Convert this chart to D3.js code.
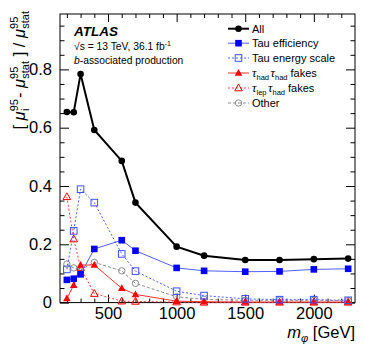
<!DOCTYPE html>
<html>
<head>
<meta charset="utf-8">
<script src="https://cdn.jsdelivr.net/npm/d3@7"></script>
<style>
  body { margin: 0; background: #fff; }
  text { font-family: "Liberation Sans", Arial, Helvetica, sans-serif; }
</style>
</head>
<body>
<div id="my_dataviz"></div>
<script>
// mass points (GeV)
var masses = [200, 250, 300, 400, 600, 700, 1000, 1200, 1500, 1750, 2000, 2250]
// relative impact on the 95% CL limit
var allSyst  = [0.654, 0.653, 0.784, 0.592, 0.486, 0.343, 0.192, 0.161, 0.146, 0.146, 0.149, 0.151]
var tauEff   = [0.078, 0.082, 0.097, 0.184, 0.214, 0.178, 0.119, 0.109, 0.106, 0.107, 0.114, 0.116]
var tauEs    = [0.114, 0.246, 0.389, 0.343, 0.167, 0.108, 0.039, 0.024, 0.013, 0.010, 0.010, 0.008]
var hadhadFk = [0.014, 0.060, 0.129, 0.129, 0.049, 0.028, 0.005, 0.003, 0.002, 0.002, 0.002, 0.002]
var lephadFk = [0.363, 0.218, 0.120, 0.031, 0.005, 0.004, 0.002, 0.001, 0.001, 0.001, 0.001, 0.001]
var other    = [0.132, 0.119, 0.112, 0.138, 0.109, 0.066, 0.020, 0.011, 0.008, 0.008, 0.008, 0.007]

var yTicks = [0, 0.2, 0.4, 0.6, 0.8]
var xTicks = [500, 1000, 1500, 2000]

var W = 374, H = 361
var pL = 60, pR = 355, pT = 14, pB = 302.6

var svg = d3.select("#my_dataviz").append("svg")
    .attr("width", W).attr("height", H)

var x = d3.scaleLinear().domain([150, 2300]).range([pL, pR])
var y = d3.scaleLinear().domain([0, 0.99]).range([pB, pT])

// minor tick values
var xMinor = d3.range(200, 2300, 100).filter(function (d) { return d % 500 !== 0 })
var yMinor = d3.range(0, 0.99, 0.05).filter(function (d) { return Math.round(d * 100) % 20 !== 0 })

// ---- axes (ticks inside, mirrored on top/right)
var fmt = function (d) { return d === 0 ? "0" : d3.format(".1f")(d) }

svg.append("g").attr("transform", "translate(0," + pB + ")")
    .call(d3.axisBottom(x).tickValues(xTicks).tickSize(-8).tickPadding(5).tickFormat(d3.format("d")).tickSizeOuter(0))
svg.append("g").attr("transform", "translate(0," + pB + ")")
    .call(d3.axisBottom(x).tickValues(xMinor).tickSize(-4).tickFormat("").tickSizeOuter(0))
svg.append("g").attr("transform", "translate(0," + pT + ")")
    .call(d3.axisTop(x).tickValues(xTicks).tickSize(-8).tickFormat("").tickSizeOuter(0))
svg.append("g").attr("transform", "translate(0," + pT + ")")
    .call(d3.axisTop(x).tickValues(xMinor).tickSize(-4).tickFormat("").tickSizeOuter(0))

svg.append("g").attr("transform", "translate(" + pL + ",0)")
    .call(d3.axisLeft(y).tickValues(yTicks).tickSize(-9).tickPadding(8).tickFormat(fmt).tickSizeOuter(0))
svg.append("g").attr("transform", "translate(" + pL + ",0)")
    .call(d3.axisLeft(y).tickValues(yMinor).tickSize(-4.5).tickFormat("").tickSizeOuter(0))
svg.append("g").attr("transform", "translate(" + pR + ",0)")
    .call(d3.axisRight(y).tickValues(yTicks).tickSize(-9).tickFormat("").tickSizeOuter(0))
svg.append("g").attr("transform", "translate(" + pR + ",0)")
    .call(d3.axisRight(y).tickValues(yMinor).tickSize(-4.5).tickFormat("").tickSizeOuter(0))

svg.selectAll(".domain").remove()
svg.selectAll(".tick line").attr("stroke", "#000").attr("stroke-width", 1)
svg.selectAll(".tick text").attr("font-size", 16.5).attr("fill", "#000")
    .attr("font-family", "Liberation Sans, Arial, sans-serif")

// frame
svg.append("rect")
    .attr("x", pL).attr("y", pT)
    .attr("width", pR - pL).attr("height", pB - pT)
    .attr("fill", "none").attr("stroke", "#000").attr("stroke-width", 1)

// ---- series
var series = [
    { name: "Other", vals: other, line: "#8c8c8c", mk: "#8c8c8c", dash: "3,2", w: 1, shape: "circle", fill: false },
    { name: "lephad", vals: lephadFk, line: "#ff4444", mk: "#ff0000", dash: "2,2", w: 1, shape: "tri", fill: false },
    { name: "hadhad", vals: hadhadFk, line: "#ff3333", mk: "#ff0000", dash: null, w: 1, shape: "tri", fill: true },
    { name: "Tau energy scale", vals: tauEs, line: "#5060ff", mk: "#4050ff", dash: "2,2", w: 1, shape: "square", fill: false },
    { name: "Tau efficiency", vals: tauEff, line: "#5060ff", mk: "#0000ff", dash: null, w: 1, shape: "square", fill: true },
    { name: "All", vals: allSyst, line: "#000", mk: "#000", dash: null, w: 2, shape: "circle", fill: true }
]

var line = d3.line()
    .x(function (d) { return x(d[0]) })
    .y(function (d) { return y(d[1]) })

function drawMarker(g, s, cx, cy) {
    var m
    if (s.shape === "circle") {
        m = g.append("circle").attr("cx", cx).attr("cy", cy).attr("r", s.fill ? 3.3 : 3.2)
    } else if (s.shape === "square") {
        m = g.append("rect").attr("x", cx - 3.3).attr("y", cy - 3.3).attr("width", 6.6).attr("height", 6.6)
    } else {
        m = g.append("path").attr("d", "M" + cx + "," + (cy - 4) + "L" + (cx + 3.8) + "," + (cy + 2.8) + "L" + (cx - 3.8) + "," + (cy + 2.8) + "Z")
    }
    if (s.fill) m.attr("fill", s.mk).attr("stroke", "none")
    else m.attr("fill", "none").attr("stroke", s.mk).attr("stroke-width", 1)
}

series.forEach(function (s) {
    var pts = masses.map(function (m, i) { return [m, s.vals[i]] })
    svg.append("path")
        .datum(pts)
        .attr("d", line)
        .attr("fill", "none")
        .attr("stroke", s.line)
        .attr("stroke-width", s.w)
        .attr("stroke-dasharray", s.dash)
    var g = svg.append("g")
    pts.forEach(function (p) { drawMarker(g, s, x(p[0]), y(p[1])) })
})

// ---- legend
var legRows = [
    { s: series[5], label: [["All"]] },
    { s: series[4], label: [["Tau efficiency"]] },
    { s: series[3], label: [["Tau energy scale"]] },
    { s: series[2], label: [["τ", "tau"], ["had", "sub"], ["τ", "tau"], ["had", "sub"], [" fakes"]] },
    { s: series[1], label: [["τ", "tau"], ["lep", "sub"], ["τ", "tau"], ["had", "sub"], [" fakes"]] },
    { s: series[0], label: [["Other"]] }
]
var legY = [28.7, 43.2, 58, 73, 88, 103]

legRows.forEach(function (r, i) {
    var ly = legY[i]
    svg.append("line")
        .attr("x1", 228).attr("x2", 249).attr("y1", ly).attr("y2", ly)
        .attr("stroke", r.s.line).attr("stroke-width", r.s.w)
        .attr("stroke-dasharray", r.s.dash)
    drawMarker(svg.append("g"), r.s, 238.5, ly)
    var t = svg.append("text").attr("x", 252).attr("y", ly + 4).attr("font-size", 11)
    r.label.forEach(function (p) {
        var n = t.selectAll("tspan").size()
        var ts = t.append("tspan").text(p[0])
        if (p[1] === "tau") {
            ts.attr("font-family", "Liberation Serif, serif").attr("font-style", "italic").attr("font-size", 12.5)
            if (n > 0) ts.attr("dx", 1.5).attr("dy", -3)
        } else if (p[1] === "sub") {
            ts.attr("font-size", 7.5).attr("dy", 3)
        } else if (n > 0) {
            ts.attr("dy", -3)
        }
    })
})

// ---- ATLAS label
svg.append("text").attr("x", 74).attr("y", 36)
    .attr("font-size", 13.5).attr("font-weight", "bold").attr("font-style", "italic")
    .text("ATLAS")
var lum = svg.append("text").attr("x", 74).attr("y", 50).attr("font-size", 10.3)
lum.append("tspan").text("√s = 13 TeV, 36.1 fb")
lum.append("tspan").text("-1").attr("font-size", 7).attr("dy", -4)
var prod = svg.append("text").attr("x", 74).attr("y", 63.5).attr("font-size", 10.3)
prod.append("tspan").text("b").attr("font-style", "italic")
prod.append("tspan").text("-associated production")

// ---- axis titles
var xt = svg.append("text").attr("x", 355).attr("y", 338).attr("text-anchor", "end").attr("font-size", 16.5)
xt.append("tspan").text("m").attr("font-style", "italic")
xt.append("tspan").text("φ").attr("font-style", "italic").attr("font-size", 11).attr("dy", 4)
xt.append("tspan").text(" [GeV]").attr("dy", -4)

var yt = svg.append("text")
    .attr("transform", "translate(25,11) rotate(-90)")
    .attr("text-anchor", "end").attr("font-size", 16.5)
yt.append("tspan").text("[ ")
yt.append("tspan").text("μ").attr("font-style", "italic")
yt.append("tspan").text("95").attr("font-size", 11).attr("dy", -7)
yt.append("tspan").text("i").attr("font-size", 11).attr("dx", -12).attr("dy", 11)
yt.append("tspan").text(" - ").attr("dx", 6).attr("dy", -4)
yt.append("tspan").text("μ").attr("font-style", "italic")
yt.append("tspan").text("95").attr("font-size", 11).attr("dy", -7)
yt.append("tspan").text("stat").attr("font-size", 11).attr("dx", -12).attr("dy", 11)
yt.append("tspan").text(" ] / ").attr("dy", -4)
yt.append("tspan").text("μ").attr("font-style", "italic")
yt.append("tspan").text("95").attr("font-size", 11).attr("dy", -7)
yt.append("tspan").text("stat").attr("font-size", 11).attr("dx", -12).attr("dy", 11)
</script>
</body>
</html>
